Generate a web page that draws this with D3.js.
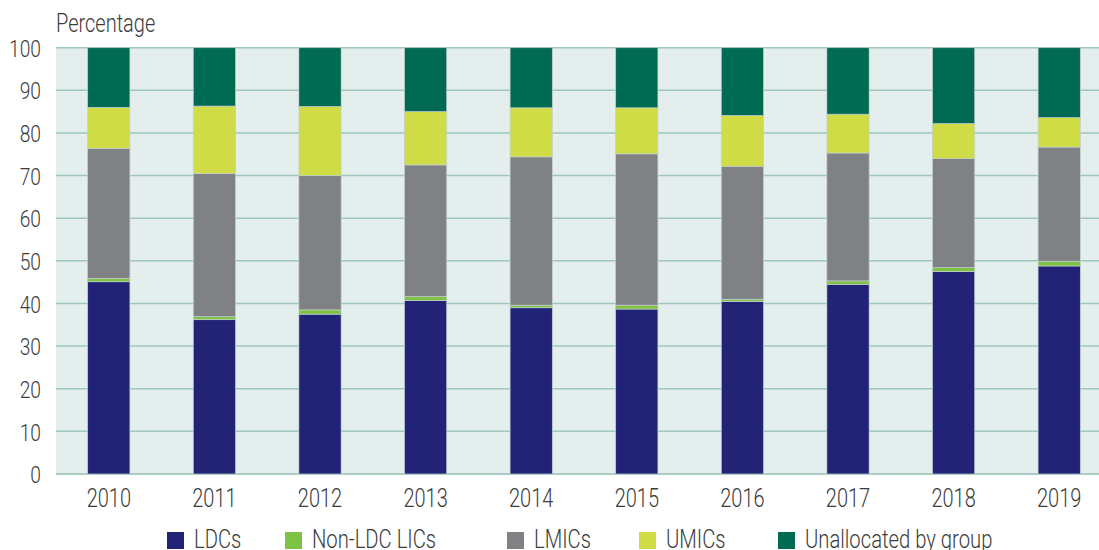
<!DOCTYPE html>
<html>
<head>
<meta charset="utf-8">
<script src="https://cdn.jsdelivr.net/npm/d3@7"></script>
<style>
  body { margin: 0; background: #fff; }
  svg text { font-family: Roboto, "Noto Sans", sans-serif; font-weight: 300; fill: #3c3c3c; }
</style>
</head>
<body>
<svg id="chart" width="1099" height="550"></svg>
<script>
// data (percent of total)
let years = ['2010', '2011', '2012', '2013', '2014', '2015', '2016', '2017', '2018', '2019'];
let ldcs        = [45.1, 36.2, 37.5, 40.7, 39.0, 38.7, 40.5, 44.5, 47.5, 48.8];
let nonLdcLics  = [0.8, 0.7, 1.0, 0.9, 0.6, 0.9, 0.5, 0.8, 0.9, 1.1];
let lmics       = [30.5, 33.6, 31.5, 30.9, 34.8, 35.5, 31.2, 30.0, 25.6, 26.8];
let umics       = [9.6, 15.8, 16.2, 12.5, 11.5, 10.8, 11.9, 9.1, 8.2, 6.9];
let unallocated = [14.0, 13.7, 13.8, 15.0, 14.1, 14.1, 15.9, 15.6, 17.8, 16.4];
let seriesNames = ['LDCs', 'Non-LDC LICs', 'LMICs', 'UMICs', 'Unallocated by group'];
let yTicks = [0, 10, 20, 30, 40, 50, 60, 70, 80, 90, 100];

let colors = ['#222277', '#7dc242', '#808184', '#cfdc45', '#006a53'];
let legendX = [167, 285, 507, 639, 778];
let squeeze = 0.8; // narrow the font to mimic a condensed face

let svg = d3.select('#chart');

let rows = years.map((y, i) => ({
    year: y,
    'LDCs': ldcs[i],
    'Non-LDC LICs': nonLdcLics[i],
    'LMICs': lmics[i],
    'UMICs': umics[i],
    'Unallocated by group': unallocated[i]
}));
let stacked = d3.stack().keys(seriesNames)(rows);

let xScale = d3.scaleBand()
    .domain(years)
    .range([56, 1112])
    .paddingInner(0.6)
    .paddingOuter(0.3);
let yScale = d3.scaleLinear()
    .domain([0, 100])
    .range([474, 47.7]);

//plot background
svg.append('rect')
   .attr('x', 56)
   .attr('y', yScale(100))
   .attr('width', 1099 - 56)
   .attr('height', yScale(0) - yScale(100))
   .attr('fill', '#e4eeec');

//gridlines
svg.append('g')
   .selectAll('line')
   .data(yTicks)
   .enter()
   .append('line')
   .attr('x1', 56)
   .attr('x2', 1099)
   .attr('y1', (d) => yScale(d))
   .attr('y2', (d) => yScale(d))
   .attr('stroke', (d) => d === 0 ? '#a8cdc6' : '#9ec8bc')
   .attr('stroke-width', (d) => d === 0 ? 2 : 1.5);

//stacked bars
svg.append('g')
   .selectAll('g')
   .data(stacked)
   .enter()
   .append('g')
   .attr('fill', (d, i) => colors[i])
   .selectAll('rect')
   .data((d) => d)
   .enter()
   .append('rect')
   .attr('x', (d) => xScale(d.data.year))
   .attr('width', xScale.bandwidth())
   .attr('y', (d) => yScale(d[1]))
   .attr('height', (d) => yScale(d[0]) - yScale(d[1]))
   .attr('stroke', '#c3d0ce')
   .attr('stroke-width', 0.7);

//y axis
let yAxis = d3.axisLeft(yScale).tickValues(yTicks).tickSize(0).tickPadding(0);
let yG = svg.append('g')
   .attr('transform', 'translate(41,0)')
   .call(yAxis);
yG.select('.domain').remove();
yG.selectAll('text')
  .attr('x', 0)
  .attr('dy', '0.36em')
  .attr('transform', `scale(${squeeze},1)`)
  .style('font-size', '24px');

//x axis
let xAxis = d3.axisBottom(xScale).tickSize(0).tickPadding(0);
let xG = svg.append('g')
   .attr('transform', 'translate(0,507)')
   .call(xAxis);
xG.select('.domain').remove();
xG.selectAll('text')
  .attr('y', 0)
  .attr('dy', 0)
  .attr('transform', `scale(${squeeze},1)`)
  .style('font-size', '25px');

//axis title
svg.append('text')
   .attr('x', 56 / squeeze)
   .attr('y', 32)
   .attr('transform', `scale(${squeeze},1)`)
   .style('font-size', '25px')
   .text('Percentage');

//legend
let legendSqueeze = 0.81;
let legend = svg.append('g').attr('id', 'legend');
let items = legend.selectAll('g')
   .data(seriesNames)
   .enter()
   .append('g')
   .attr('transform', (d, i) => `translate(${legendX[i]},532)`);
items.append('rect')
   .attr('width', 17)
   .attr('height', 17)
   .attr('fill', (d, i) => colors[i]);
items.append('text')
   .attr('x', 27 / legendSqueeze)
   .attr('y', 15.5)
   .attr('transform', `scale(${legendSqueeze},1)`)
   .style('font-size', '25px')
   .text((d) => d);
</script>
</body>
</html>
